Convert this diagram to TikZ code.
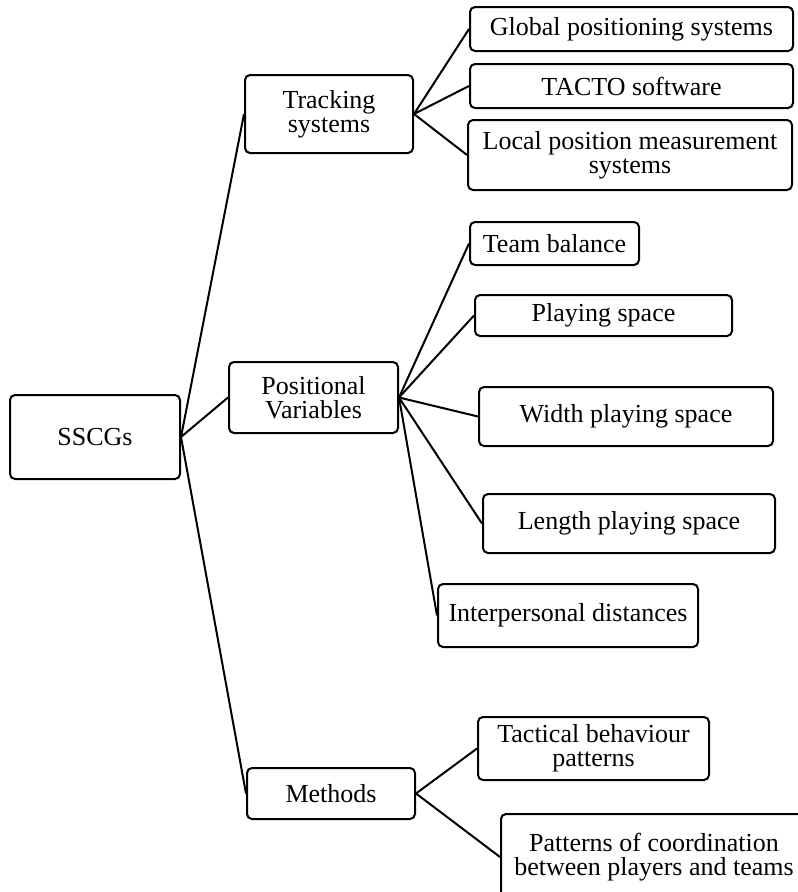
\documentclass[tikz,border=0pt]{standalone}
\usepackage{fontspec}
\setmainfont{Liberation Serif}
\usepackage{tikz}
\usetikzlibrary{positioning}
\tikzset{
  cbox/.style={rectangle, rounded corners=5pt, draw=black, line width=2pt,
    font=\fontsize{26}{24}\selectfont, align=center, inner sep=2pt},
  cline/.style={black, line width=2pt}
}

\begin{document}
\begin{tikzpicture}[x=1pt,y=-1pt]
        \useasboundingbox (0,0) rectangle (798,892);
        \clip (0,0) rectangle (798,892);
        \node[cbox,minimum width=170pt,minimum height=84pt] (sscg) at (95,437) {SSCGs};
        \node[cbox,minimum width=168pt,minimum height=78pt] (trk) at (329,114) {Tracking\\systems};
        \node[cbox,minimum width=169pt,minimum height=71pt] (pos) at (313.5,397.5) {Positional\\Variables};
        \node[cbox,minimum width=168pt,minimum height=51pt] (met) at (331,793.5) {Methods};
        \node[cbox,minimum width=323pt,minimum height=44pt] (gps) at (631.5,29) {Global positioning systems};
        \node[cbox,minimum width=323pt,minimum height=44pt] (tac) at (631.5,86) {TACTO software};
        \node[cbox,minimum width=324pt,minimum height=70pt] (lpm) at (630,155) {Local position measurement\\systems};
        \node[cbox,minimum width=169pt,minimum height=43pt] (tb) at (554.5,243.5) {Team balance};
        \node[cbox,minimum width=257pt,minimum height=41pt] (ps) at (603.5,315.5) {Playing space};
        \node[cbox,minimum width=294pt,minimum height=59pt] (wps) at (626,416.5) {Width playing space};
        \node[cbox,minimum width=292pt,minimum height=59pt] (lps) at (629,523.5) {Length playing space};
        \node[cbox,minimum width=260pt,minimum height=63pt] (ipd) at (568,615.5) {Interpersonal distances};
        \node[cbox,minimum width=231pt,minimum height=63pt] (tbp) at (593.5,748.5) {Tactical behaviour\\patterns};
        \node[cbox,minimum width=306pt,minimum height=86pt] (pcb) at (654,857) {Patterns of coordination\\between players and teams};
        \draw[cline](sscg.east)--(trk.west);\draw[cline](sscg.east)--(pos.west);\draw[cline](sscg.east)--(met.west);
        \draw[cline](trk.east)--(gps.west);\draw[cline](trk.east)--(tac.west);\draw[cline](trk.east)--(lpm.west);
        \draw[cline](pos.east)--(tb.west);\draw[cline](pos.east)--(ps.west);\draw[cline](pos.east)--(wps.west);
        \draw[cline](pos.east)--(lps.west);\draw[cline](pos.east)--(ipd.west);
        \draw[cline](met.east)--(tbp.west);\draw[cline](met.east)--(pcb.west);
      \end{tikzpicture}
\end{document}
